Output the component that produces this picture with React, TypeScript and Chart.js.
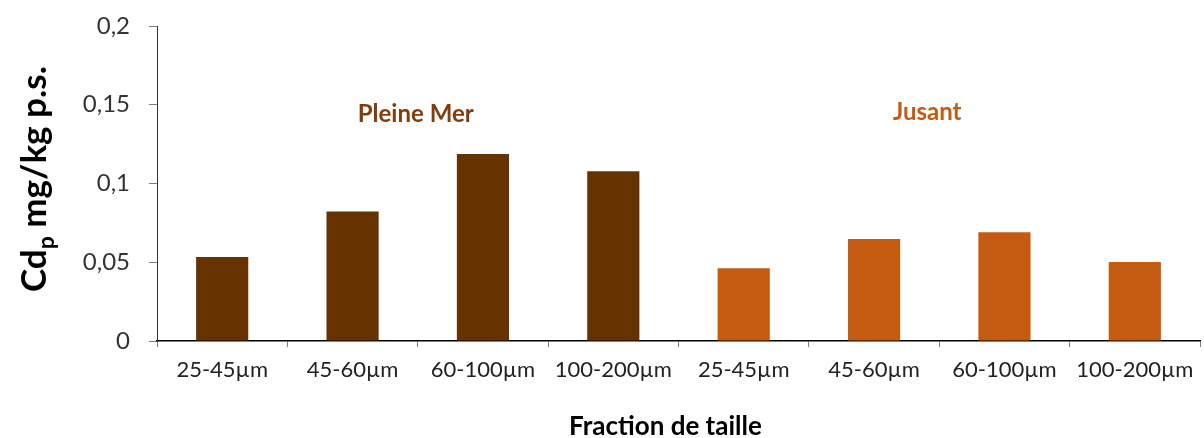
import React, { useEffect, useRef } from "react";
import { Chart, registerables } from "chart.js";

Chart.register(...registerables);

const categories = [
  "25-45µm", "45-60µm", "60-100µm", "100-200µm",
  "25-45µm", "45-60µm", "60-100µm", "100-200µm",
];
const cdValues = [0.0533, 0.0823, 0.1187, 0.1077, 0.0462, 0.0648, 0.069, 0.0502];
const groupNames = ["Pleine Mer", "Jusant"];
const groupLabelColors = ["#843C0C", "#C55A11"];
const barColors = ["#663300", "#663300", "#663300", "#663300", "#C55A11", "#C55A11", "#C55A11", "#C55A11"];
const yTicks = [0, 0.05, 0.1, 0.15, 0.2];
const yTitleMain = "Cd";
const yTitleSub = "p";
const yTitleRest = " mg/kg p.s.";
const xTitle = "Fraction de taille";

const FONT = "Lato, 'Open Sans', sans-serif";

const overlayPlugin = {
  id: "overlay",
  afterDraw(chart: any) {
    const ctx = chart.ctx;
    const area = chart.chartArea;
    const x = chart.scales.x;
    ctx.save();
    // group labels
    ctx.font = `bold 24px ${FONT}`;
    ctx.textAlign = "center";
    ctx.textBaseline = "middle";
    const g1 = (x.getPixelForValue(1) + x.getPixelForValue(2)) / 2;
    const g2 = (x.getPixelForValue(5) + x.getPixelForValue(6)) / 2;
    ctx.fillStyle = groupLabelColors[0];
    ctx.fillText(groupNames[0], g1 - 2, 114);
    ctx.fillStyle = groupLabelColors[1];
    ctx.fillText(groupNames[1], g2 - 12, 112);
    // x title
    ctx.fillStyle = "#000";
    ctx.font = `bold 26px ${FONT}`;
    ctx.fillText(xTitle, (area.left + area.right) / 2 - 13, 427);
    // y title with subscript
    ctx.translate(46, 179);
    ctx.rotate(-Math.PI / 2);
    const big = `bold 35px ${FONT}`;
    const small = `bold 23px ${FONT}`;
    ctx.font = big;
    const w1 = ctx.measureText(yTitleMain).width;
    const w3 = ctx.measureText(yTitleRest).width;
    ctx.font = small;
    const w2 = ctx.measureText(yTitleSub).width;
    const total = w1 + w2 + w3;
    let cx = -total / 2;
    ctx.textAlign = "left";
    ctx.textBaseline = "alphabetic";
    ctx.font = big;
    ctx.fillText(yTitleMain, cx, 0);
    cx += w1;
    ctx.font = small;
    ctx.fillText(yTitleSub, cx, 8);
    cx += w2;
    ctx.font = big;
    ctx.fillText(yTitleRest, cx, 0);
    ctx.restore();
  },
};

export default function App() {
  const ref = useRef<HTMLCanvasElement>(null);
  useEffect(() => {
    document.body.style.margin = "0";
    const chart = new Chart(ref.current!, {
      type: "bar",
      data: {
        labels: categories,
        datasets: [
          {
            data: cdValues,
            backgroundColor: barColors,
            borderWidth: 0,
            barPercentage: 0.4,
            categoryPercentage: 1,
          },
        ],
      },
      options: {
        animation: false,
        responsive: false,
        maintainAspectRatio: false,
        layout: { padding: { left: 0, right: 4, top: 26, bottom: 0 } },
        plugins: { legend: { display: false }, tooltip: { enabled: false } },
        scales: {
          x: {
            grid: {
              offset: true,
              drawOnChartArea: false,
              drawTicks: true,
              tickLength: 6,
              color: "#7f7f7f",
            },
            border: { color: "#000", width: 1.5 },
            ticks: {
              color: "#222",
              font: { family: FONT, size: 22 },
              padding: 10,
              maxRotation: 0,
              autoSkip: false,
            },
            afterFit(scale: any) {
              scale.height = 97;
              scale.paddingLeft = 0;
              scale.paddingRight = 0;
            },
          },
          y: {
            min: 0,
            max: 0.2,
            afterBuildTicks(scale: any) {
              scale.ticks = yTicks.map((v) => ({ value: v }));
            },
            grid: {
              drawOnChartArea: false,
              drawTicks: true,
              tickLength: 8,
              color: "#7f7f7f",
            },
            border: { color: "#333", width: 1 },
            ticks: {
              color: "#333",
              font: { family: FONT, size: 24 },
              padding: 19,
              callback: (v: any) => String(Math.round(Number(v) * 100) / 100).replace(".", ","),
            },
            afterFit(scale: any) {
              scale.width = 157;
              scale.paddingTop = 0;
              scale.paddingBottom = 0;
            },
          },
        },
      },
      plugins: [overlayPlugin],
    });
    return () => chart.destroy();
  }, []);
  return (
    <div style={{ width: 1204, height: 438 }}>
      <canvas ref={ref} width={1204} height={438} style={{ display: "block" }} />
    </div>
  );
}
